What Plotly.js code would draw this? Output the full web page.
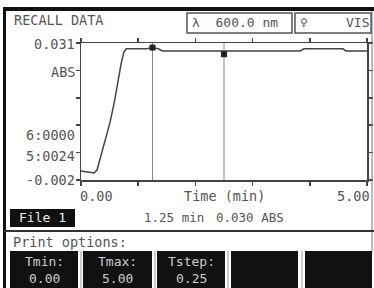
<!DOCTYPE html>
<html>
<head>
<meta charset="utf-8">
<script src="https://cdn.plot.ly/plotly-3.0.1.min.js"></script>
<style>html,body{margin:0;padding:0;background:#fff;}#chart{width:374px;height:288px;}</style>
</head>
<body>
<div id="chart"></div>
<script>
// Data
var timeMin = [0.00, 0.12, 0.23, 0.28, 0.33, 0.42, 0.51, 0.59, 0.65, 0.70, 0.75, 0.79, 1.15, 1.24, 1.35, 1.43, 3.83, 3.90, 4.58, 4.63, 5.00];
var absValues = [0.0002, -0.0001, -0.0003, 0.0004, 0.0028, 0.0076, 0.0120, 0.0173, 0.0226, 0.0259, 0.0288, 0.0296, 0.0296, 0.0299, 0.0296, 0.0291, 0.0291, 0.0296, 0.0296, 0.0291, 0.0291];
var cursorTimes = [1.25, 2.50];
var cursorValues = [0.0299, 0.0283];
var yLabelText = ["0.031", "ABS", "6:0000", "5:0024", "-0.002"];
var yLabelValue = [0.0308, 0.0240, 0.0088, 0.0038, -0.0020];
var xLabelText = ["0.00", "Time (min)", "5.00"];
var buttonTop = ["Tmin:", "Tmax:", "Tstep:", "", ""];
var buttonBottom = ["0.00", "5.00", "0.25", "", ""];

var W = 374, H = 288, L = 81, R = 367, T = 43, B = 180;
function px(x) { return (x - L) / (R - L); }
function py(y) { return (B - y) / (B - T); }

var FONT = "DejaVu Sans Mono";
var TXT = "#555";

var shapes = [];
function rect(x0, y0, x1, y1, fill, line, lw) {
  shapes.push({type: "rect", xref: "paper", yref: "paper", x0: px(x0), x1: px(x1), y0: py(y1), y1: py(y0),
    fillcolor: fill || "rgba(0,0,0,0)", line: {color: line || "rgba(0,0,0,0)", width: lw || 0}, layer: "above"});
}
function line(x0, y0, x1, y1, c, w) {
  shapes.push({type: "line", xref: "paper", yref: "paper", x0: px(x0), x1: px(x1), y0: py(y0), y1: py(y1),
    line: {color: c, width: w}, layer: "above"});
}
// frame
rect(4, 7, 374, 11, "#111");
rect(3, 7, 6, 288, "#111");
line(372, 11, 372, 251, "#777", 1);
rect(187, 13, 292, 33, null, "#555", 1.5);
rect(295, 13, 371, 33, null, "#555", 1.5);
rect(10, 209, 75, 227, "#111");
line(4, 231, 374, 231, "#333", 2);
var btnX = [[10, 78], [83, 152], [157, 225], [231, 298], [305, 372]];
btnX.forEach(function (b) { rect(b[0], 251, b[1], 288, "#111"); });
[81, 155, 228, 302].forEach(function (x) { line(x, 251, x, 288, "#999", 1); });
// cursor lines
cursorTimes.forEach(function (t) {
  shapes.push({type: "line", xref: "x", yref: "paper", x0: t, x1: t, y0: 0, y1: 1, line: {color: "#888", width: 1}, layer: "below"});
});

var ann = [];
function txt(s, x, y, anchor, size, color) {
  ann.push({text: s, xref: "paper", yref: "paper", x: px(x), y: py(y), xanchor: anchor, yanchor: "middle",
    showarrow: false, font: {family: FONT, size: size || 13, color: color || TXT}});
}
txt("RECALL DATA", 12, 20, "left", 13.5);
txt("λ  600.0 nm", 190, 23, "left", 13);
txt("♀", 298, 23, "left", 13);
txt("VIS", 371, 23, "right", 13);
yLabelText.forEach(function (s, i) {
  ann.push({text: s, xref: "paper", yref: "y", x: px(77), y: yLabelValue[i], xanchor: "right", yanchor: "middle",
    showarrow: false, font: {family: FONT, size: 13.5, color: TXT}});
});
txt(xLabelText[0], 78, 196, "left", 13.5);
txt(xLabelText[1], 224, 196, "center", 13.5);
txt(xLabelText[2], 372, 196, "right", 13.5);
txt("File 1", 42, 218, "center", 13, "#eee");
txt("1.25 min", 174, 217, "center", 12.5);
txt("0.030 ABS", 250, 217, "center", 12.5);
txt("Print options:", 11, 242, "left", 13.5);
btnX.forEach(function (b, i) {
  var c = (b[0] + b[1]) / 2;
  if (buttonTop[i]) txt(buttonTop[i], c, 261, "center", 13, "#ccc");
  if (buttonBottom[i]) txt(buttonBottom[i], c, 278, "center", 13, "#ccc");
});

var traces = [
  {x: timeMin, y: absValues, mode: "lines", line: {color: "#444", width: 1.5}, hoverinfo: "none"},
  {x: cursorTimes, y: cursorValues, mode: "markers", marker: {symbol: "square", size: 6, color: "#222"}, hoverinfo: "none"}
];

var axisCommon = {showgrid: false, zeroline: false, showline: true, linecolor: "#444", linewidth: 1.5,
  mirror: "ticks", ticks: "outside", ticklen: 4, tickwidth: 1.5, tickcolor: "#444", showticklabels: false, fixedrange: true};

var layout = {
  width: W, height: H,
  margin: {l: L, r: W - R, t: T, b: H - B, pad: 0},
  paper_bgcolor: "#fff", plot_bgcolor: "#fff",
  showlegend: false,
  xaxis: Object.assign({}, axisCommon, {range: [0, 5], tickmode: "linear", tick0: 0, dtick: 1}),
  yaxis: Object.assign({}, axisCommon, {range: [-0.002, 0.031], tickmode: "linear", tick0: -0.002, dtick: 0.0066}),
  shapes: shapes,
  annotations: ann
};

Plotly.newPlot("chart", traces, layout, {staticPlot: true, displayModeBar: false});
</script>
</body>
</html>
